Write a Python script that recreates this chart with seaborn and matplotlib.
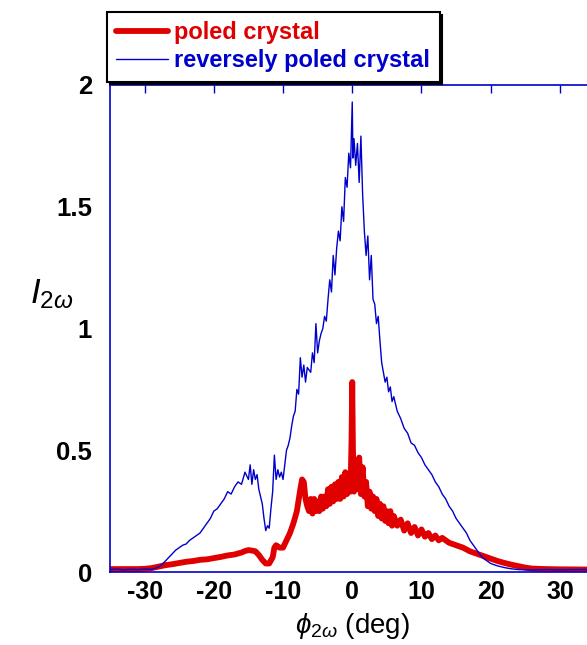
import numpy as np
import pandas as pd
import matplotlib
matplotlib.use("Agg")
import matplotlib.pyplot as plt
import seaborn as sns

# ---------------- data ----------------
blue_x = [-35, -34, -33, -32, -31, -30, -29, -28.5, -28, -27.5, -27, -26.5, -26, -25.5, -25,
          -24.5, -24, -23.5, -23, -22.5, -22, -21.5, -21, -20.5, -20, -19.5, -19, -18.5, -18,
          -17.5, -17, -16.5, -16, -15.5, -15, -14.75, -14.5, -14.25, -14, -13.75, -13.5, -13,
          -12.75, -12.5, -12.25, -12, -11.75, -11.5, -11.25, -11, -10.75, -10.5, -10.25, -10,
          -9.75, -9.5, -9.25, -9, -8.75, -8.5, -8.25, -8, -7.75, -7.5, -7.25, -7, -6.75, -6.5,
          -6.25, -6, -5.75, -5.5, -5.25, -5, -4.75, -4.5, -4.25, -4, -3.75, -3.5, -3.25, -3,
          -2.75, -2.5, -2.25, -2, -1.75, -1.5, -1.25, -1, -0.75, -0.5, -0.25, 0, 0.1, 0.25,
          0.5, 0.75, 1, 1.25, 1.5, 1.75, 2, 2.25, 2.5, 2.75, 3, 3.25, 3.5, 3.75, 4, 4.25, 4.5,
          4.75, 5, 5.25, 5.5, 5.75, 6, 6.5, 7, 7.5, 8, 8.5, 9, 9.5, 10, 10.5, 11, 11.5, 12,
          12.5, 13, 13.5, 14, 14.5, 15, 15.5, 16, 16.5, 17, 17.5, 18, 18.5, 19, 19.5, 20, 21,
          22, 23, 24, 26, 28, 30, 32, 35]
blue_y = [0.010, 0.012, 0.009, 0.011, 0.010, 0.012, 0.011, 0.015, 0.020, 0.030, 0.045, 0.060,
          0.075, 0.090, 0.100, 0.110, 0.115, 0.130, 0.140, 0.150, 0.160, 0.180, 0.200, 0.220,
          0.250, 0.260, 0.280, 0.300, 0.330, 0.320, 0.350, 0.370, 0.360, 0.410, 0.380, 0.440,
          0.360, 0.420, 0.380, 0.400, 0.340, 0.280, 0.220, 0.170, 0.190, 0.180, 0.260, 0.330,
          0.480, 0.380, 0.420, 0.390, 0.410, 0.380, 0.440, 0.500, 0.520, 0.550, 0.600, 0.640,
          0.660, 0.750, 0.730, 0.880, 0.800, 0.850, 0.780, 0.840, 0.830, 0.820, 0.900, 0.860,
          1.020, 0.900, 0.950, 0.980, 1.000, 1.050, 1.030, 1.120, 1.200, 1.150, 1.300, 1.220,
          1.330, 1.400, 1.360, 1.500, 1.440, 1.620, 1.580, 1.720, 1.660, 1.930, 1.700, 1.780,
          1.670, 1.760, 1.600, 1.790, 1.550, 1.400, 1.300, 1.380, 1.200, 1.300, 1.120, 1.100,
          1.020, 1.050, 0.950, 0.860, 0.820, 0.780, 0.800, 0.740, 0.760, 0.700, 0.720, 0.660,
          0.630, 0.590, 0.570, 0.530, 0.520, 0.490, 0.470, 0.440, 0.420, 0.400, 0.370, 0.350,
          0.320, 0.300, 0.270, 0.250, 0.220, 0.200, 0.180, 0.160, 0.130, 0.110, 0.090, 0.070,
          0.055, 0.045, 0.035, 0.025, 0.018, 0.013, 0.010, 0.008, 0.010, 0.009, 0.010, 0.010]

red_x = [-35, -33, -31, -30, -29, -28, -27, -26, -25, -24, -23, -22, -21, -20, -19, -18, -17,
         -16, -15.5, -15, -14.5, -14, -13.5, -13, -12.5, -12, -11.5, -11.25, -11, -10.5, -10,
         -9.5, -9, -8.5, -8, -7.5, -7.25, -7, -6.75, -6.5, -6.25, -6, -5.75, -5.5, -5.25, -5,
         -4.75, -4.5, -4.25, -4, -3.75, -3.5, -3.25, -3, -2.75, -2.5, -2.25, -2, -1.75, -1.5,
         -1.25, -1, -0.75, -0.5, -0.25, -0.1, 0, 0.1, 0.25, 0.5, 0.75, 1, 1.25, 1.5, 1.75, 2,
         2.25, 2.5, 2.75, 3, 3.25, 3.5, 3.75, 4, 4.25, 4.5, 4.75, 5, 5.25, 5.5, 5.75, 6, 6.5,
         7, 7.5, 8, 8.5, 9, 9.5, 10, 10.5, 11, 11.5, 12, 12.5, 13, 14, 15, 16, 17, 18, 19, 20,
         21, 22, 23, 24, 25, 26, 28, 30, 35]
red_y = [0.012, 0.012, 0.012, 0.013, 0.016, 0.022, 0.028, 0.032, 0.037, 0.042, 0.045, 0.050,
         0.052, 0.057, 0.062, 0.068, 0.072, 0.080, 0.086, 0.090, 0.088, 0.085, 0.070, 0.050,
         0.035, 0.035, 0.060, 0.100, 0.110, 0.100, 0.100, 0.130, 0.160, 0.200, 0.250, 0.340,
         0.380, 0.370, 0.300, 0.270, 0.250, 0.300, 0.240, 0.300, 0.250, 0.290, 0.250, 0.310,
         0.260, 0.310, 0.270, 0.340, 0.280, 0.350, 0.290, 0.360, 0.300, 0.370, 0.300, 0.390,
         0.310, 0.410, 0.320, 0.400, 0.330, 0.550, 0.780, 0.500, 0.330, 0.460, 0.340, 0.470,
         0.320, 0.430, 0.310, 0.370, 0.270, 0.330, 0.260, 0.310, 0.250, 0.300, 0.230, 0.280,
         0.220, 0.270, 0.210, 0.250, 0.200, 0.250, 0.190, 0.230, 0.190, 0.215, 0.170, 0.200,
         0.160, 0.185, 0.150, 0.175, 0.145, 0.160, 0.135, 0.150, 0.130, 0.140, 0.120, 0.110,
         0.100, 0.085, 0.075, 0.065, 0.055, 0.045, 0.037, 0.030, 0.024, 0.018, 0.014, 0.012,
         0.011, 0.010]

series_labels = ["poled crystal", "reversely poled crystal"]
x_ticks = [-30, -20, -10, 0, 10, 20, 30]
y_ticks = [0, 0.5, 1, 1.5, 2]
y_tick_labels = ["0", "0.5", "1", "1.5", "2"]

RED = "#e00000"
BLUE = "#0000cc"

# ---------------- style ----------------
sns.set_style("white")
plt.rcParams["font.family"] = ["Liberation Sans", "DejaVu Sans"]
plt.rcParams["mathtext.fontset"] = "custom"
plt.rcParams["mathtext.rm"] = "Liberation Sans"
plt.rcParams["mathtext.it"] = "Liberation Sans:italic"
plt.rcParams["mathtext.bf"] = "Liberation Sans:bold"
plt.rcParams["text.color"] = "black"
plt.rcParams["axes.labelcolor"] = "black"

fig = plt.figure(figsize=(5.87, 6.45), dpi=100)
ax = fig.add_axes([110 / 587, 73 / 645, (594.5 - 110) / 587, 487 / 645])

red_df = pd.DataFrame({"x": red_x, "y": red_y})
blue_df = pd.DataFrame({"x": blue_x, "y": blue_y})

sns.lineplot(data=red_df, x="x", y="y", ax=ax, color=RED, lw=4.2, estimator=None,
             sort=False, label=series_labels[0])
sns.lineplot(data=blue_df, x="x", y="y", ax=ax, color=BLUE, lw=1, estimator=None,
             sort=False, label=series_labels[1])

ax.set_xlim(-35, 35)
ax.set_ylim(0, 2)
ax.set_xticks(x_ticks)
ax.set_xticklabels([str(t) for t in x_ticks])
ax.set_yticks(y_ticks)
ax.set_yticklabels(y_tick_labels)

for sp in ax.spines.values():
    sp.set_color(BLUE)
    sp.set_linewidth(1.2)

ax.tick_params(axis="both", which="both", direction="in", colors=BLUE, length=6, width=1,
               top=True, right=True, labelcolor="black")
ax.tick_params(axis="y", pad=13, labelsize=18.5)
ax.tick_params(axis="x", pad=6, labelsize=18)
for lab in ax.get_xticklabels() + ax.get_yticklabels():
    lab.set_fontweight("bold")

ax.set_xlabel(r"$\phi_{2\omega}$ (deg)", fontsize=20, labelpad=5, color="black")
ax.set_ylabel(r"$I_{2\omega}$", fontsize=25, rotation=0, labelpad=0, color="black")
ax.yaxis.set_label_coords(-0.12, 0.535)

leg = ax.legend(loc="upper left", bbox_to_anchor=(107 / 587, 1 - 12 / 645),
                bbox_transform=fig.transFigure, borderaxespad=0, frameon=True,
                fancybox=False, shadow={"color": "black", "alpha": 1},
                prop={"weight": "bold", "size": 17}, handlelength=2.2,
                handletextpad=0.25, labelspacing=0.2, borderpad=0.4)
leg.get_frame().set_edgecolor("black")
leg.get_frame().set_linewidth(1.5)
for txt, c in zip(leg.get_texts(), [RED, BLUE]):
    txt.set_color(c)

fig.savefig("out.png", dpi=100)
